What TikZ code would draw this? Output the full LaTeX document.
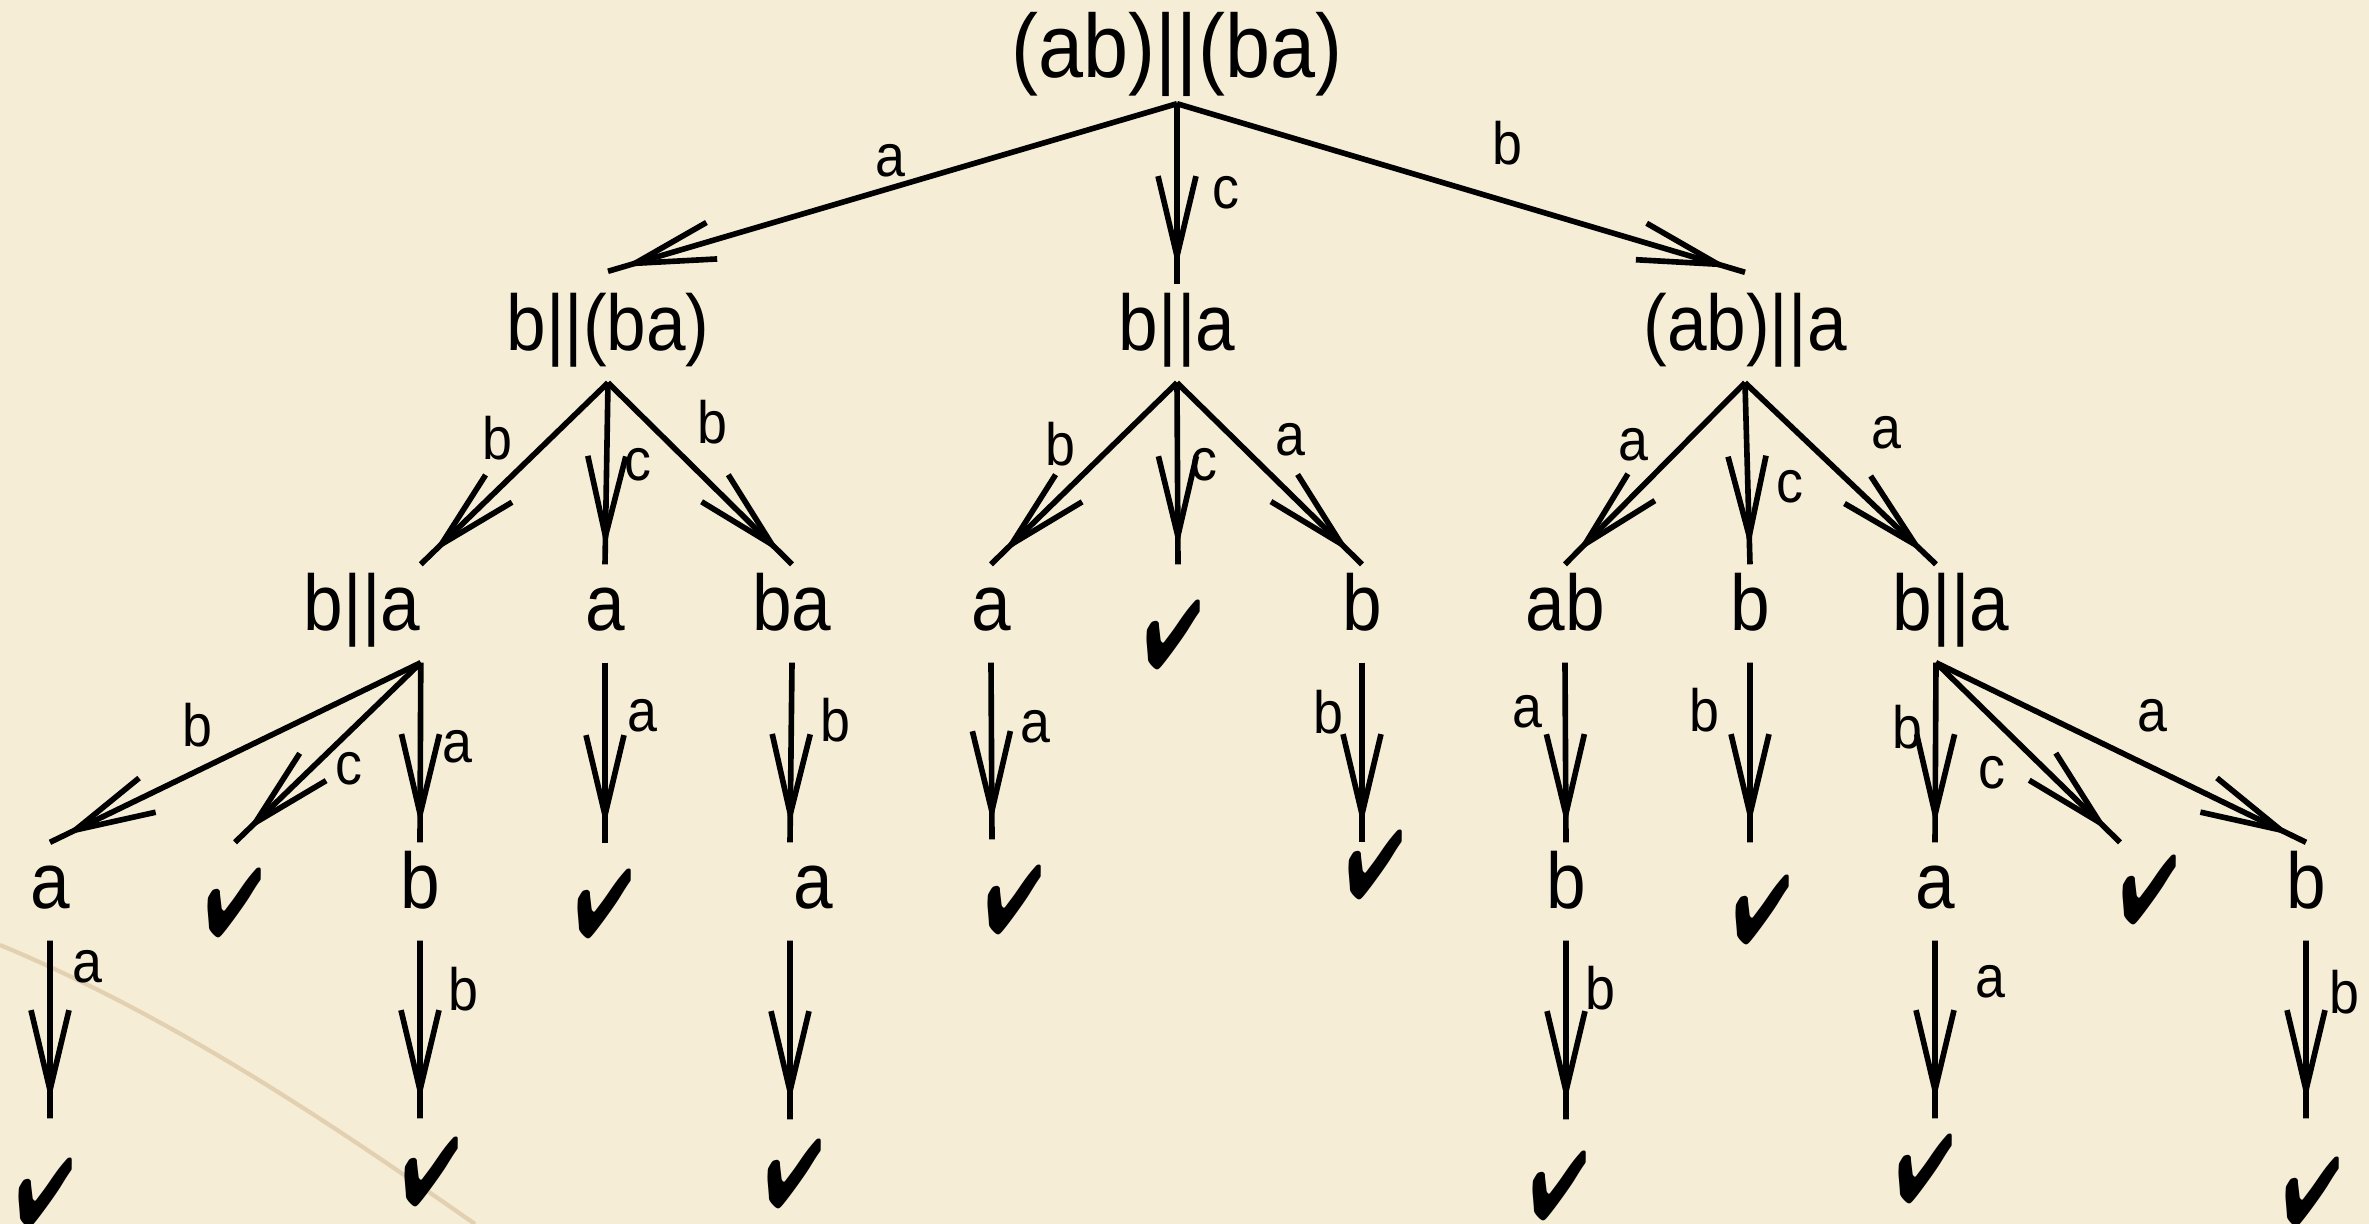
\documentclass[tikz,border=0pt]{standalone}
\usepackage{fontspec}
\usepackage{pifont}
\usetikzlibrary{arrows.meta, decorations.markings}

\newfontfamily\helv[FakeStretch=0.9]{Liberation Sans}
\definecolor{paper}{RGB}{245,237,213}
\definecolor{crease}{RGB}{160,105,50}
\newcommand\tick{\scalebox{0.85}[1.2]{\ding{52}}}

\begin{document}
\begin{tikzpicture}[
  x=1cm, y=1cm,
  term/.style={font=\helv\fontsize{22.5pt}{26pt}\selectfont, anchor=base, inner xsep=0pt, inner ysep=0.8mm, text height=5.7mm, text depth=2.4mm},
  start/.style={term, font=\helv\fontsize{25.6pt}{30pt}\selectfont, text height=6.5mm, text depth=1.7mm},
  done/.style={font=\fontsize{23pt}{26pt}\selectfont, inner sep=0pt, minimum height=12mm},
  lbl/.style={font=\helv\fontsize{17pt}{20pt}\selectfont, inner sep=0pt},
  move/.style={line width=1.6pt, postaction={decorate},
    decoration={markings, mark=at position -1.6mm with {\arrow{Straight Barb[length=8mm, width=3.8mm]}}}}
]
\path[use as bounding box] (0,0) rectangle (23.69,-12.24);

% paper
\fill[paper] (0,0) rectangle (23.69,-12.24);
\draw[crease, opacity=0.22, line width=1.2pt] (0,-9.45) .. controls (1.8,-10.2) and (3.4,-11.3) .. (4.75,-12.24);

% root
\node[start] (s0) at (11.77,-0.78) {(ab)||(ba)};

% level 1
\node[term] (s1) at (6.08,-3.50) {b||(ba)};
\node[term] (s2) at (11.77,-3.50) {b||a};
\node[term] (s3) at (17.45,-3.50) {(ab)||a};

% level 2
\node[term] (s11) at (3.62,-6.30) {b||a};
\node[term] (s12) at (6.05,-6.30) {a};
\node[term] (s13) at (7.92,-6.30) {ba};
\node[term] (s21) at (9.91,-6.30) {a};
\node[done] (s22) at (11.74,-6.35) {\tick};
\node[term] (s23) at (13.62,-6.30) {b};
\node[term] (s31) at (15.65,-6.30) {ab};
\node[term] (s32) at (17.50,-6.30) {b};
\node[term] (s33) at (19.51,-6.30) {b||a};

% level 3
\node[term] (s111) at (0.50,-9.08) {a};
\node[done] (s112) at (2.35,-9.03) {\tick};
\node[term] (s113) at (4.20,-9.08) {b};
\node[done] (s121) at (6.05,-9.04) {\tick};
\node[term] (s131) at (8.13,-9.08) {a};
\node[done] (s211) at (10.15,-9.00) {\tick};
\node[done] (s231) at (13.76,-8.65) {\tick};
\node[term] (s311) at (15.66,-9.08) {b};
\node[done] (s321) at (17.63,-9.10) {\tick};
\node[term] (s331) at (19.35,-9.08) {a};
\node[done] (s332) at (21.50,-8.90) {\tick};
\node[term] (s333) at (23.06,-9.08) {b};

% level 4
\node[done] (s1111) at (0.46,-11.93) {\tick};
\node[done] (s1131) at (4.32,-11.72) {\tick};
\node[done] (s1311) at (7.95,-11.74) {\tick};
\node[done] (s3111) at (15.60,-11.86) {\tick};
\node[done] (s3311) at (19.26,-11.69) {\tick};
\node[done] (s3331) at (23.13,-11.92) {\tick};

% moves out of the root
\draw[move] (s0.south) -- ([yshift=1.3mm]s1.north) node[lbl] at (8.90,-1.61) {a};
\draw[move] (s0.south) -- (s2.north) node[lbl] at (12.26,-1.93) {c};
\draw[move] (s0.south) -- ([yshift=1.2mm]s3.north) node[lbl] at (15.07,-1.43) {b};

% moves out of level 1
\draw[move] (s1.south) -- (s11.north east) node[lbl] at (4.97,-4.38) {b};
\draw[move] (s1.south) -- (s12.north) node[lbl] at (6.38,-4.65) {c};
\draw[move] (s1.south) -- (s13.north) node[lbl] at (7.12,-4.22) {b};
\draw[move] (s2.south) -- (s21.north) node[lbl] at (10.60,-4.44) {b};
\draw[move] (s2.south) -- ([xshift=0.4mm,yshift=1mm]s22.north) node[lbl] at (12.04,-4.65) {c};
\draw[move] (s2.south) -- (s23.north) node[lbl] at (12.90,-4.40) {a};
\draw[move] (s3.south) -- (s31.north) node[lbl] at (16.33,-4.45) {a};
\draw[move] (s3.south) -- (s32.north) node[lbl] at (17.90,-4.87) {c};
\draw[move] (s3.south) -- ([xshift=-1.5mm]s33.north) node[lbl] at (18.86,-4.33) {a};

% moves out of level 2
\draw[move] (s11.south east) -- (s111.north) node[lbl] at (1.97,-7.25) {b};
\draw[move] (s11.south east) -- (s112.north) node[lbl] at (3.49,-7.69) {c};
\draw[move] (s11.south east) -- (s113.north) node[lbl] at (4.57,-7.47) {a};
\draw[move] (s12.south) -- (s121.north) node[lbl] at (6.42,-7.16) {a};
\draw[move] (s13.south) -- ([xshift=-2.3mm]s131.north) node[lbl] at (8.35,-7.20) {b};
\draw[move] (s21.south) -- ([xshift=-2.3mm]s211.north) node[lbl] at (10.35,-7.27) {a};
\draw[move] (s23.south) -- ([xshift=-1.4mm,yshift=-3.8mm]s231.north) node[lbl] at (13.28,-7.12) {b};
\draw[move] (s31.south) -- (s311.north) node[lbl] at (15.27,-7.12) {a};
\draw[move] (s32.south) -- ([xshift=-1.3mm,yshift=0.7mm]s321.north) node[lbl] at (17.04,-7.10) {b};
\draw[move] ([xshift=-1.5mm]s33.south) -- (s331.north) node[lbl] at (19.07,-7.27) {b};
\draw[move] ([xshift=-1.5mm]s33.south) -- ([xshift=-3mm,yshift=-1.3mm]s332.north) node[lbl] at (19.92,-7.73) {c};
\draw[move] ([xshift=-1.5mm]s33.south) -- (s333.north) node[lbl] at (21.52,-7.16) {a};

% moves out of level 3
\draw[move] (s111.south) -- ([xshift=0.4mm,yshift=1.4mm]s1111.north) node[lbl] at (0.87,-9.67) {a};
\draw[move] (s113.south) -- ([xshift=-1.2mm,yshift=-0.7mm]s1131.north) node[lbl] at (4.63,-9.89) {b};
\draw[move] ([xshift=-2.3mm]s131.south) -- ([xshift=-0.5mm,yshift=-0.6mm]s1311.north);
\draw[move] (s311.south) -- ([xshift=0.6mm,yshift=0.6mm]s3111.north) node[lbl] at (16.00,-9.88) {b};
\draw[move] (s331.south) -- ([xshift=0.9mm,yshift=-1mm]s3311.north) node[lbl] at (19.90,-9.82) {a};
\draw[move] (s333.south) -- ([xshift=-0.7mm,yshift=1.3mm]s3331.north) node[lbl] at (23.44,-9.92) {b};

\end{tikzpicture}
\end{document}
